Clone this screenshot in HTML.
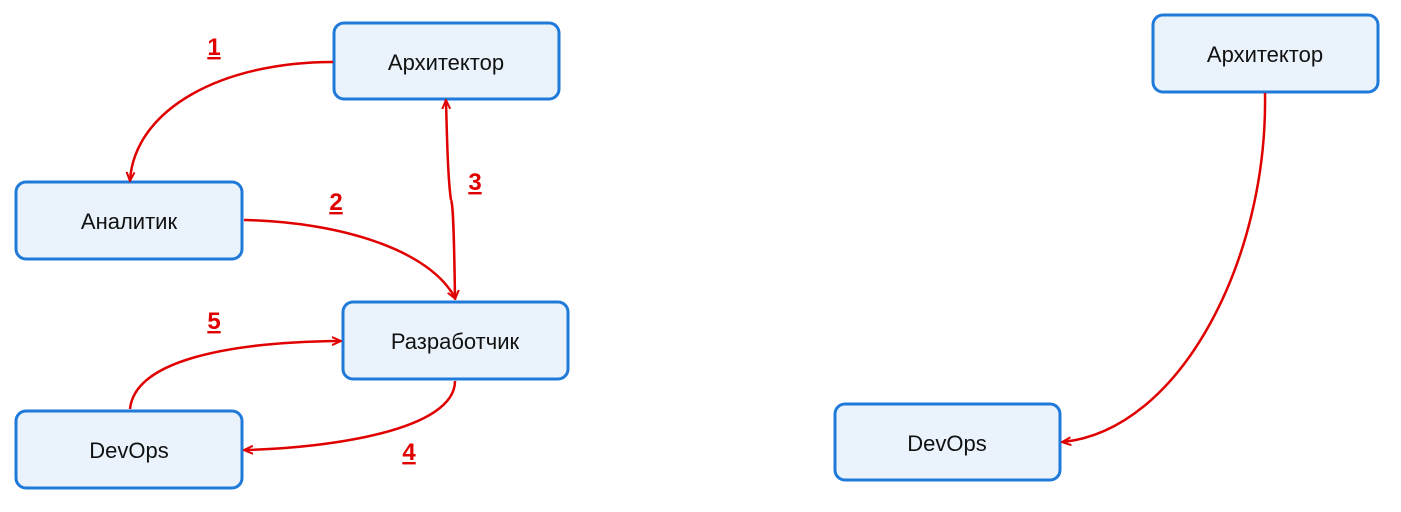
<!DOCTYPE html>
<html><head><meta charset="utf-8"><style>
body{margin:0;background:#fff;width:1401px;height:507px;overflow:hidden;font-family:"Liberation Sans",sans-serif}
</style></head><body>
<svg width="1401" height="507" viewBox="0 0 1401 507" xmlns="http://www.w3.org/2000/svg">
<defs>
<marker id="a" markerWidth="10" markerHeight="10" refX="8" refY="5" orient="auto" markerUnits="userSpaceOnUse">
<path d="M0,1 L9,5 L0,9" fill="none" stroke="#e00000" stroke-width="2"/>
</marker>
</defs>
<g fill="#eaf3fb" stroke="#1f7ad9" stroke-width="3">
<rect x="334" y="23" width="225" height="76" rx="10"/>
<rect x="16" y="182" width="226" height="77" rx="10"/>
<rect x="343" y="302" width="225" height="77" rx="10"/>
<rect x="16" y="411" width="226" height="77" rx="10"/>
<rect x="1153" y="15" width="225" height="77" rx="10"/>
<rect x="835" y="404" width="225" height="76" rx="10"/>
</g>
<g font-size="22" fill="#111" text-anchor="middle">
<text x="446" y="70">Архитектор</text>
<text x="129" y="229">Аналитик</text>
<text x="455" y="349">Разработчик</text>
<text x="129" y="458">DevOps</text>
<text x="1265" y="62">Архитектор</text>
<text x="947" y="451">DevOps</text>
</g>
<g fill="none" stroke="#e00000" stroke-width="2.5">
<path d="M333,62 C220,62 135,110 130,180" marker-end="url(#a)"/>
<path d="M244,220 C340,222 430,250 455,298" marker-end="url(#a)"/>
<path d="M451,200 C453,203 454,230 455,298" marker-end="url(#a)"/>
<path d="M451,200 C448,180 447,140 446,101" marker-end="url(#a)"/>
<path d="M130,409 C135,360 230,342 340,341" marker-end="url(#a)"/>
<path d="M455,381 C455,430 330,448 245,450" marker-end="url(#a)"/>
<path d="M1265,93 C1268,260 1180,430 1063,442" marker-end="url(#a)"/>
</g>
<g font-size="24" font-weight="bold" fill="#e00000" text-anchor="middle" text-decoration="underline">
<text x="214" y="55">1</text>
<text x="336" y="210">2</text>
<text x="475" y="190">3</text>
<text x="409" y="460">4</text>
<text x="214" y="329">5</text>
</g>
</svg>
</body></html>
